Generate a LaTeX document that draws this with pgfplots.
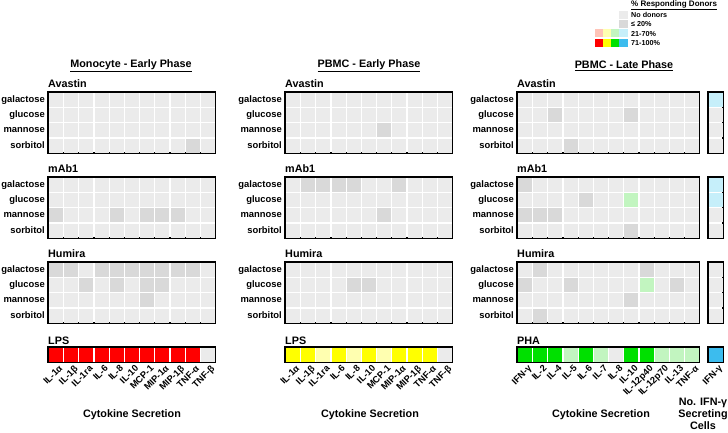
\documentclass[border=0pt]{standalone}
\usepackage{fontspec}
\setmainfont{Liberation Sans}
\usepackage{pgfplots}
\pgfplotsset{compat=1.18}
\definecolor{cn}{HTML}{EBEBEB}
\definecolor{cg}{HTML}{D9D9D9}
\definecolor{crs}{HTML}{FF0000}
\definecolor{crl}{HTML}{FFC4B8}
\definecolor{cys}{HTML}{FFFF00}
\definecolor{cyl}{HTML}{FFFFB0}
\definecolor{cgs}{HTML}{00E000}
\definecolor{cgl}{HTML}{C2F5C0}
\definecolor{cbs}{HTML}{3CBCEE}
\definecolor{cbl}{HTML}{C6EFFA}
\pgfplotsset{
 hm/.style={scale only axis, anchor=north west, axis on top, xmin=-0.5, ymin=-0.5, ymax=3.5,
   height=61pt, enlargelimits=false, clip=false, xtick=\empty, ytick={0,1,2,3},
   yticklabels={sorbitol,mannose,glucose,galactose}, major tick length=0pt,
   axis line style={line width=1.4pt},
   yticklabel style={font=\fontsize{9.4}{10}\selectfont\bfseries, inner sep=1pt, xshift=-2pt}},
 hm11/.style={hm, xmax=10.5, width=167.2pt},
 hm12/.style={hm, xmax=11.5, width=182.4pt},
 hm1/.style={hm, xmax=0.5, width=15pt, ytick=\empty},
 bar/.style={ymin=-0.5, ymax=0.5, height=15.2pt, ytick=\empty,
   xticklabel style={rotate=45, anchor=north east, font=\fontsize{9.3}{10}\selectfont\bfseries, inner sep=1pt, xshift=1.5pt, yshift=-2.5pt}},
 c/.style={only marks, mark=square*, mark size=6.5pt, mark options={fill=#1, draw=#1, line width=0.3pt}},
}
\newcommand{\tf}{\fontsize{10.8}{12}\selectfont\bfseries}
\begin{document}
\begin{tikzpicture}
\useasboundingbox (0pt,0pt) rectangle (728pt,432pt);
% ---------------- Monocyte - Early Phase ----------------
\begin{axis}[hm11, at={(48pt,340pt)}]
\addplot[c=cn] coordinates {(0,3) (1,3) (2,3) (3,3) (4,3) (5,3) (6,3) (7,3) (8,3) (9,3) (10,3)
 (0,2) (1,2) (2,2) (3,2) (4,2) (5,2) (6,2) (7,2) (8,2) (9,2) (10,2)
 (0,1) (1,1) (2,1) (3,1) (4,1) (5,1) (6,1) (7,1) (8,1) (9,1) (10,1)
 (0,0) (1,0) (2,0) (3,0) (4,0) (5,0) (6,0) (7,0) (8,0) (10,0)};
\addplot[c=cg] coordinates {(9,0)};
\end{axis}
\begin{axis}[hm11, at={(48pt,255pt)}]
\addplot[c=cn] coordinates {(0,3) (1,3) (2,3) (3,3) (4,3) (5,3) (6,3) (7,3) (8,3) (9,3) (10,3)
 (0,2) (1,2) (2,2) (3,2) (4,2) (5,2) (6,2) (7,2) (8,2) (9,2) (10,2)
 (1,1) (2,1) (3,1) (5,1) (9,1) (10,1)
 (0,0) (1,0) (2,0) (3,0) (4,0) (5,0) (6,0) (7,0) (8,0) (9,0) (10,0)};
\addplot[c=cg] coordinates {(0,1) (4,1) (6,1) (7,1) (8,1)};
\end{axis}
\begin{axis}[hm11, at={(48pt,170pt)}]
\addplot[c=cn] coordinates {(2,3) (10,3)
 (0,2) (1,2) (3,2) (5,2) (8,2) (9,2) (10,2)
 (0,1) (1,1) (2,1) (3,1) (4,1) (5,1) (7,1) (8,1) (9,1) (10,1)
 (0,0) (1,0) (2,0) (3,0) (4,0) (5,0) (6,0) (7,0) (8,0) (9,0) (10,0)};
\addplot[c=cg] coordinates {(0,3) (1,3) (3,3) (4,3) (5,3) (6,3) (7,3) (8,3) (9,3)
 (2,2) (4,2) (6,2) (7,2) (6,1)};
\end{axis}
\begin{axis}[hm11, bar, at={(48pt,85pt)}, xtick={0,...,10},
  xticklabels={IL-1α,IL-1β,IL-1ra,IL-6,IL-8,IL-10,MCP-1,MIP-1α,MIP-1β,TNF-α,TNF-β}]
\addplot[c=crs] coordinates {(0,0) (1,0) (2,0) (3,0) (4,0) (5,0) (6,0) (7,0) (8,0) (9,0)};
\addplot[c=cn] coordinates {(10,0)};
\end{axis}
% ---------------- PBMC - Early Phase ----------------
\begin{axis}[hm11, at={(285pt,340pt)}]
\addplot[c=cn] coordinates {(0,3) (1,3) (2,3) (3,3) (4,3) (5,3) (6,3) (7,3) (8,3) (9,3) (10,3)
 (0,2) (1,2) (2,2) (3,2) (4,2) (5,2) (6,2) (7,2) (8,2) (9,2) (10,2)
 (0,1) (1,1) (2,1) (3,1) (4,1) (5,1) (7,1) (8,1) (9,1) (10,1)
 (0,0) (1,0) (2,0) (3,0) (4,0) (5,0) (6,0) (7,0) (8,0) (9,0) (10,0)};
\addplot[c=cg] coordinates {(6,1)};
\end{axis}
\begin{axis}[hm11, at={(285pt,255pt)}]
\addplot[c=cn] coordinates {(0,3) (5,3) (6,3) (8,3) (9,3) (10,3)
 (0,2) (1,2) (2,2) (3,2) (4,2) (5,2) (6,2) (7,2) (8,2) (9,2) (10,2)
 (0,1) (1,1) (2,1) (3,1) (4,1) (5,1) (7,1) (8,1) (9,1) (10,1)
 (0,0) (1,0) (2,0) (3,0) (4,0) (5,0) (6,0) (7,0) (8,0) (9,0) (10,0)};
\addplot[c=cg] coordinates {(1,3) (2,3) (3,3) (4,3) (7,3) (6,1)};
\end{axis}
\begin{axis}[hm11, at={(285pt,170pt)}]
\addplot[c=cn] coordinates {(0,3) (1,3) (2,3) (3,3) (4,3) (5,3) (6,3) (7,3) (8,3) (9,3) (10,3)
 (0,2) (1,2) (2,2) (3,2) (6,2) (7,2) (8,2) (9,2) (10,2)
 (0,1) (1,1) (2,1) (3,1) (4,1) (5,1) (6,1) (7,1) (8,1) (9,1) (10,1)
 (0,0) (1,0) (2,0) (3,0) (4,0) (5,0) (6,0) (7,0) (8,0) (9,0) (10,0)};
\addplot[c=cg] coordinates {(4,2) (5,2)};
\end{axis}
\begin{axis}[hm11, bar, at={(285pt,85pt)}, xtick={0,...,10},
  xticklabels={IL-1α,IL-1β,IL-1ra,IL-6,IL-8,IL-10,MCP-1,MIP-1α,MIP-1β,TNF-α,TNF-β}]
\addplot[c=cys] coordinates {(0,0) (1,0) (3,0) (5,0) (7,0) (8,0) (9,0)};
\addplot[c=cyl] coordinates {(2,0) (4,0) (6,0)};
\addplot[c=cn] coordinates {(10,0)};
\end{axis}
% ---------------- PBMC - Late Phase ----------------
\begin{axis}[hm12, at={(517pt,340pt)}]
\addplot[c=cn] coordinates {(0,3) (1,3) (2,3) (3,3) (4,3) (5,3) (6,3) (7,3) (8,3) (9,3) (10,3) (11,3)
 (0,2) (1,2) (3,2) (4,2) (5,2) (6,2) (8,2) (9,2) (10,2) (11,2)
 (0,1) (1,1) (2,1) (3,1) (4,1) (5,1) (6,1) (7,1) (8,1) (9,1) (10,1) (11,1)
 (0,0) (1,0) (2,0) (4,0) (5,0) (6,0) (7,0) (8,0) (9,0) (10,0) (11,0)};
\addplot[c=cg] coordinates {(2,2) (7,2) (3,0)};
\end{axis}
\begin{axis}[hm12, at={(517pt,255pt)}]
\addplot[c=cn] coordinates {(1,3) (2,3) (3,3) (4,3) (5,3) (6,3) (7,3) (8,3) (9,3) (10,3) (11,3)
 (0,2) (1,2) (2,2) (3,2) (5,2) (6,2) (8,2) (9,2) (10,2) (11,2)
 (3,1) (4,1) (5,1) (6,1) (7,1) (8,1) (9,1) (10,1) (11,1)
 (0,0) (1,0) (2,0) (3,0) (4,0) (5,0) (6,0) (8,0) (9,0) (10,0) (11,0)};
\addplot[c=cg] coordinates {(0,3) (4,2) (0,1) (1,1) (2,1) (7,0)};
\addplot[c=cgl] coordinates {(7,2)};
\end{axis}
\begin{axis}[hm12, at={(517pt,170pt)}]
\addplot[c=cn] coordinates {(0,3) (2,3) (3,3) (4,3) (5,3) (6,3) (7,3) (9,3) (10,3) (11,3)
 (1,2) (2,2) (4,2) (5,2) (6,2) (7,2) (9,2) (11,2)
 (0,1) (1,1) (2,1) (3,1) (4,1) (5,1) (6,1) (8,1) (9,1) (10,1) (11,1)
 (0,0) (2,0) (3,0) (4,0) (5,0) (6,0) (7,0) (8,0) (9,0) (10,0) (11,0)};
\addplot[c=cg] coordinates {(1,3) (8,3) (0,2) (3,2) (10,2) (7,1) (1,0)};
\addplot[c=cgl] coordinates {(8,2)};
\end{axis}
\begin{axis}[hm12, bar, at={(517pt,85pt)}, xtick={0,...,11},
  xticklabels={IFN-γ,IL-2,IL-4,IL-5,IL-6,IL-7,IL-8,IL-10,IL-12p40,IL-12p70,IL-13,TNF-α}]
\addplot[c=cgs] coordinates {(0,0) (1,0) (2,0) (4,0) (7,0) (8,0)};
\addplot[c=cgl] coordinates {(3,0) (5,0) (9,0) (10,0) (11,0)};
\addplot[c=cn] coordinates {(6,0)};
\end{axis}
% IFN-gamma secreting cells
\begin{axis}[hm1, at={(708pt,340pt)}]
\addplot[c=cbl] coordinates {(0,3)};
\addplot[c=cn] coordinates {(0,2) (0,1) (0,0)};
\end{axis}
\begin{axis}[hm1, at={(708pt,255pt)}]
\addplot[c=cbl] coordinates {(0,3) (0,2)};
\addplot[c=cn] coordinates {(0,1) (0,0)};
\end{axis}
\begin{axis}[hm1, at={(708pt,170pt)}]
\addplot[c=cn] coordinates {(0,3) (0,2) (0,1) (0,0)};
\end{axis}
\begin{axis}[hm1, bar, at={(708pt,85pt)}, xtick={0}, xticklabels={IFN-γ}]
\addplot[c=cbs] coordinates {(0,0)};
\end{axis}
% ---------------- titles ----------------
\node[font=\tf] at (131pt,366pt) {\underline{Monocyte - Early Phase}};
\node[font=\tf] at (369pt,366pt) {\underline{PBMC - Early Phase}};
\node[font=\tf] at (624pt,366pt) {\underline{PBMC - Late Phase}};
\foreach \xx in {48,285,517}{
 \node[font=\tf, anchor=west, inner sep=0pt] at (\xx pt,348pt) {Avastin};
 \node[font=\tf, anchor=west, inner sep=0pt] at (\xx pt,263pt) {mAb1};
 \node[font=\tf, anchor=west, inner sep=0pt] at (\xx pt,178pt) {Humira};
}
\node[font=\tf, anchor=west, inner sep=0pt] at (48pt,91pt) {LPS};
\node[font=\tf, anchor=west, inner sep=0pt] at (285pt,91pt) {LPS};
\node[font=\tf, anchor=west, inner sep=0pt] at (517pt,91pt) {PHA};
\node[font=\tf] at (132pt,17pt) {Cytokine Secretion};
\node[font=\tf] at (370pt,17pt) {Cytokine Secretion};
\node[font=\tf] at (601pt,17pt) {Cytokine Secretion};
\node[font=\tf, align=center] at (703pt,18pt) {No. IFN-γ\\Secreting\\Cells};
% ---------------- legend ----------------
\node[font=\fontsize{8}{9}\selectfont\bfseries, anchor=west, inner sep=0pt] at (631pt,427pt) {\underline{\% Responding Donors}};
\node[font=\fontsize{7.2}{8}\selectfont\bfseries, anchor=west, inner sep=0pt] at (631pt,417pt) {No donors};
\node[font=\fontsize{7.2}{8}\selectfont\bfseries, anchor=west, inner sep=0pt] at (631pt,408pt) {≤ 20\%};
\node[font=\fontsize{7.2}{8}\selectfont\bfseries, anchor=west, inner sep=0pt] at (631pt,398pt) {21-70\%};
\node[font=\fontsize{7.2}{8}\selectfont\bfseries, anchor=west, inner sep=0pt] at (631pt,389pt) {71-100\%};
\fill[cn] (619pt,413pt) rectangle (627.5pt,421pt);
\fill[cg] (619pt,404pt) rectangle (627.5pt,412pt);
\fill[crl] (595pt,395pt) rectangle (602.5pt,403pt);
\fill[cyl] (603pt,395pt) rectangle (610.5pt,403pt);
\fill[cgl] (611pt,395pt) rectangle (618.5pt,403pt);
\fill[cbl] (619pt,395pt) rectangle (627.5pt,403pt);
\fill[crs] (595pt,385pt) rectangle (602.5pt,393pt);
\fill[cys] (603pt,385pt) rectangle (610.5pt,393pt);
\fill[cgs] (611pt,385pt) rectangle (618.5pt,393pt);
\fill[cbs] (619pt,385pt) rectangle (627.5pt,393pt);
\end{tikzpicture}
\end{document}
